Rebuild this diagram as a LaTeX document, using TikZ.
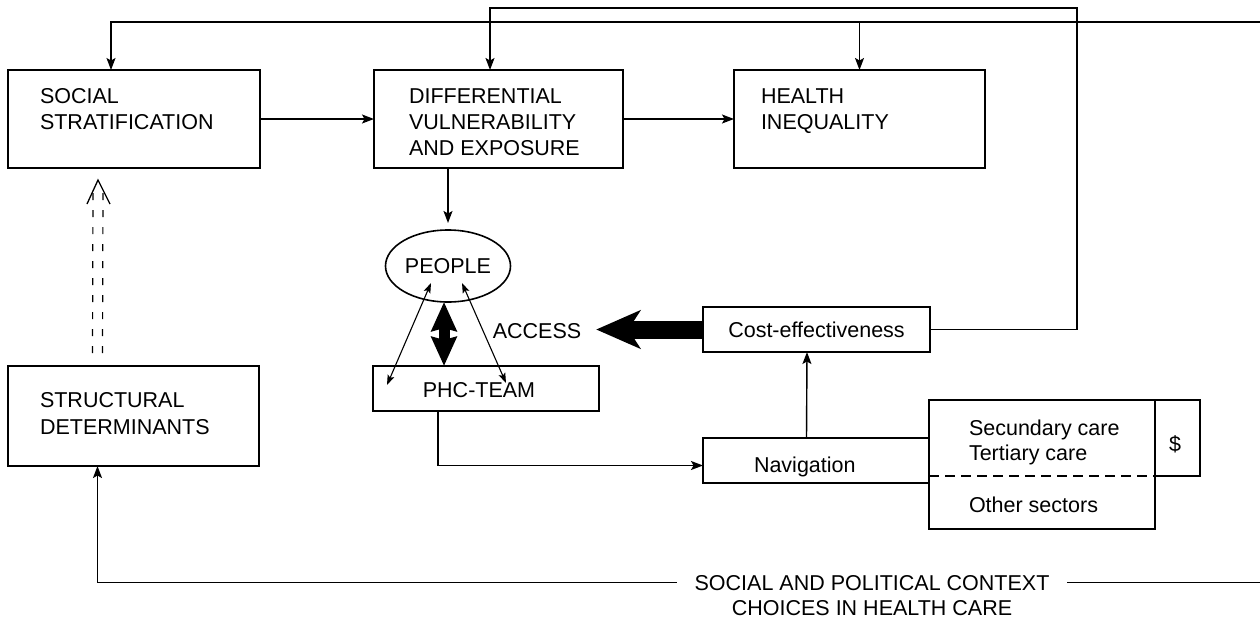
\documentclass[tikz,border=0pt]{standalone}
\usepackage{fontspec}
\setmainfont{Liberation Sans}
\usetikzlibrary{arrows.meta,shapes.geometric,calc}
\begin{document}
\begin{tikzpicture}[x=1pt,y=-1pt,
  box/.style={draw, line width=1.6pt, inner sep=0pt, outer sep=0pt, font=\fontsize{21.5}{26}\selectfont},
  txt/.style={inner sep=0pt, outer sep=0pt, align=left, font=\fontsize{21.5}{26}\selectfont},
  conn/.style={line width=1.4pt},
  arr/.style={line width=1.4pt, -{Stealth[length=12pt,width=9pt,inset=2.5pt]}},
  twoway/.style={line width=1.1pt, {Stealth[length=10pt,width=7pt,inset=2pt]}-{Stealth[length=10pt,width=7pt,inset=2pt]}},
  dsh/.style={line width=1.2pt, dash pattern=on 7pt off 10pt},
]
\useasboundingbox (0,0) rectangle (1260,619);
% boxes
\node[box, minimum width=252pt, minimum height=98pt] (ss) at (134,119) {};
\node[box, minimum width=249pt, minimum height=98pt] (dv) at (498.5,119) {};
\node[box, minimum width=251pt, minimum height=98pt] (hi) at (859.5,119) {};
\node[box, minimum width=251pt, minimum height=100pt] (struct) at (133.5,416) {};
\node[box, ellipse, minimum width=125pt, minimum height=72pt] (people) at (448,266) {PEOPLE};
\node[box, minimum width=226pt, minimum height=45pt] (phc) at (486,388.5) {};
\node[box, minimum width=227pt, minimum height=45pt] (cost) at (816.5,329.5) {Cost-effectiveness};
\node[box, minimum width=226pt, minimum height=45pt] (nav) at (816,460.5) {};
\node[box, minimum width=226pt, minimum height=129pt] (sec) at (1042,464.5) {};
\node[box, minimum width=45pt, minimum height=76pt] (dol) at (1177.5,438) {};
% texts
\node[txt, anchor=north west] (ssT) at (40,88.3) {SOCIAL\\STRATIFICATION};
\node[txt, anchor=north west] (dvT) at (409,88.3) {DIFFERENTIAL\\VULNERABILITY\\AND EXPOSURE};
\node[txt, anchor=north west] (hiT) at (761,88.3) {HEALTH\\INEQUALITY};
\node[txt, anchor=north west, font=\fontsize{21.5}{26.7}\selectfont] (stT) at (40,392.5) {STRUCTURAL\\DETERMINANTS};
\node[txt] (phcT) at (479,390.5) {PHC-TEAM};
\node[txt] (acc) at (537,331) {ACCESS};
\node[txt, anchor=base west] (navT) at (754,472) {Navigation};
\node[txt, anchor=base west] (secT1) at (969,435) {Secundary care};
\node[txt, anchor=base west] (secT2) at (969,460.7) {Tertiary care};
\node[txt, anchor=base west] (othT) at (969,512.7) {Other sectors};
\node[txt, anchor=base] (dolT) at (1175,451) {\$};
\node[txt, inner xsep=18pt, anchor=base] (ctx1) at (872,590) {SOCIAL AND POLITICAL CONTEXT};
\node[txt, anchor=base] (ctx2) at (872,615) {CHOICES IN HEALTH CARE};
% coordinates
\coordinate (tR) at (1260,22);
\coordinate (tL) at (111,22);
\coordinate (cT) at (1077,8);
\coordinate (dT) at (490,8);
\coordinate (bR) at (1260,582);
\coordinate (pl1) at (431,283);
\coordinate (pl2) at (387,385);
\coordinate (pr1) at (462,283);
\coordinate (pr2) at (506,383);
\coordinate (dTip) at (98,180);
\coordinate (dB) at ($(struct.north)+(-36,-13)$);
% connectors
\draw[arr] (ss.east) -- (dv.west);
\draw[arr] (dv.east) -- (hi.west);
\draw[arr] (tR) -- (tL) -- (tL |- ss.north);
\draw[arr] (hi.north |- tR) -- (hi.north);
\draw[arr] (cost.east) -| (cT) -- (dT) -- (dT |- dv.north);
\draw[arr, shorten >=7pt] (people.north |- dv.south) -- (people.north);
\draw[twoway] (pl1) -- (pl2);
\draw[twoway] (pr1) -- (pr2);
\draw[line width=11pt, {Stealth[length=29pt,width=25pt,inset=3pt]}-{Stealth[length=29pt,width=25pt,inset=3pt]}] ([xshift=-4pt]people.south) -- ([xshift=-4pt]people.south |- phc.north);
\draw[line width=18pt, -{Stealth[length=44pt,width=38pt,inset=12pt]}] (cost.west) -- ([xshift=15pt]cost.west -| acc.east);
\draw[arr] ([xshift=-9.5pt]nav.north) -- ([xshift=-9.5pt]cost.south);
\draw[arr] ([xshift=-48pt]phc.south) |- ([yshift=-5pt]nav.west);
\draw[line width=1.4pt, dash pattern=on 10pt off 6pt] (sec.west |- dol.south) -- (dol.south west);
\draw[dsh] ($(dB)+(-5,0)$) -- ($(dTip)+(-5,12)$);
\draw[dsh] ($(dB)+(5,0)$) -- ($(dTip)+(5,12)$);
\draw[line width=1.3pt] ($(dTip)+(-11,24)$) -- (dTip) -- ($(dTip)+(12,24)$);
\draw[arr] (ctx1.west) -| ([xshift=-36pt]struct.south);
\draw[conn] (ctx1.east) -- (ctx1.east -| bR);
\end{tikzpicture}
\end{document}
